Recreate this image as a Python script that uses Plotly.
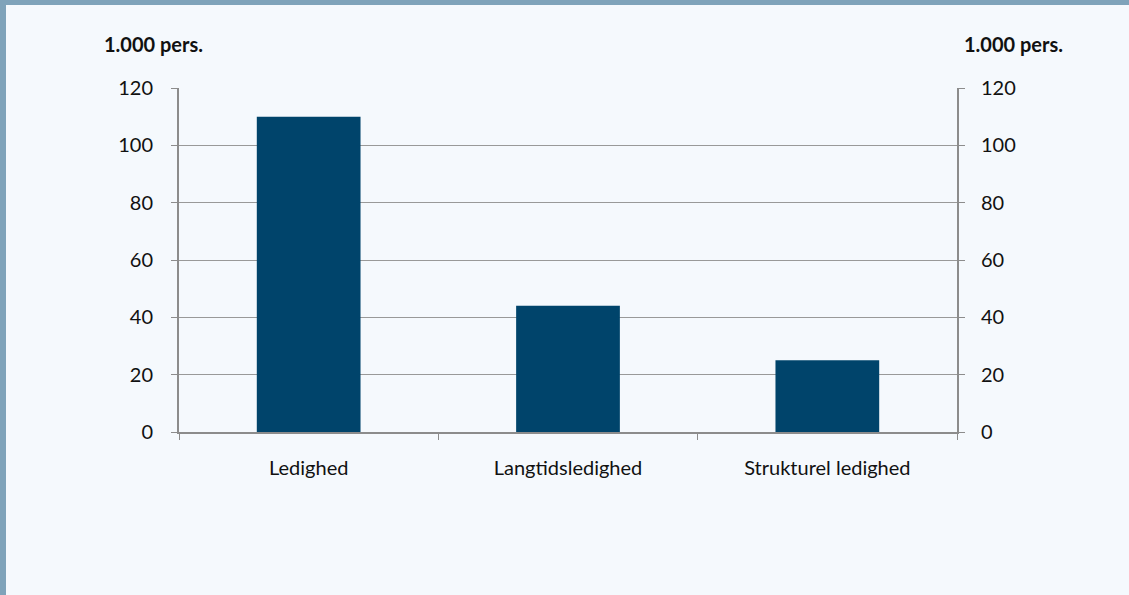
import plotly.graph_objects as go

categories = ["Ledighed", "Langtidsledighed", "Strukturel ledighed"]
values = [110, 44, 25]
y_ticks = [0, 20, 40, 60, 80, 100, 120]
unit_label = "1.000 pers."

BG = "#f5f9fd"
BORDER = "#7fa3ba"
BAR = "#00446b"
AXIS = "#8c8c8c"
FONT = "Lato"

fig = go.Figure()
fig.add_trace(go.Bar(x=categories, y=values, marker=dict(color=BAR, line=dict(width=0)),
                     width=0.4, showlegend=False, hoverinfo="x+y"))
fig.add_trace(go.Bar(x=categories, y=values, yaxis="y2", opacity=0, showlegend=False,
                     hoverinfo="skip", width=0.4))

axis_font = dict(family=FONT, size=20, color="#111111")
fig.update_layout(
    width=1129, height=595,
    paper_bgcolor=BG, plot_bgcolor=BG,
    margin=dict(l=179, r=172, t=88, b=163),
    font=axis_font,
    barmode="overlay",
    xaxis=dict(
        type="category", showline=True, linecolor=AXIS, linewidth=2,
        ticks="outside", tickson="boundaries", ticklen=6, tickcolor=AXIS, tickwidth=1,
        showgrid=False, tickfont=axis_font,
        ticklabelstandoff=17,
    ),
    yaxis=dict(
        range=[0, 120], tickvals=y_ticks, showline=True, linecolor=AXIS, linewidth=2,
        ticks="outside", ticklen=6, tickcolor=AXIS, tickwidth=1,
        showgrid=True, gridcolor="#999999", gridwidth=1, zeroline=False,
        tickfont=axis_font, ticklabelstandoff=14,
    ),
    yaxis2=dict(
        range=[0, 120], tickvals=y_ticks, overlaying="y", side="right",
        showline=True, linecolor=AXIS, linewidth=2,
        ticks="outside", ticklen=6, tickcolor=AXIS, tickwidth=1,
        showgrid=False, zeroline=False, tickfont=axis_font, ticklabelstandoff=12,
    ),
    annotations=[
        dict(text="<b>" + unit_label + "</b>", xref="paper", yref="paper",
             x=-77 / 778, y=1 + 44 / 344, xanchor="left", yanchor="middle",
             showarrow=False, font=dict(family=FONT, size=20, color="#111111")),
        dict(text="<b>" + unit_label + "</b>", xref="paper", yref="paper",
             x=1 + 5 / 778, y=1 + 44 / 344, xanchor="left", yanchor="middle",
             showarrow=False, font=dict(family=FONT, size=20, color="#111111")),
    ],
)

# page border: top band and left edge
fig.add_shape(type="rect", xref="paper", yref="paper",
              x0=-179 / 778, x1=1 + 172 / 778, y0=1 + 83 / 344, y1=1 + 88 / 344,
              fillcolor=BORDER, line=dict(width=0), layer="below")
fig.add_shape(type="rect", xref="paper", yref="paper",
              x0=-179 / 778, x1=-173 / 778, y0=-163 / 344, y1=1 + 88 / 344,
              fillcolor=BORDER, line=dict(width=0), layer="below")

fig.write_html("out.html", config={"displayModeBar": False},
               post_script="document.body.style.margin='0';document.body.style.overflow='hidden';")
